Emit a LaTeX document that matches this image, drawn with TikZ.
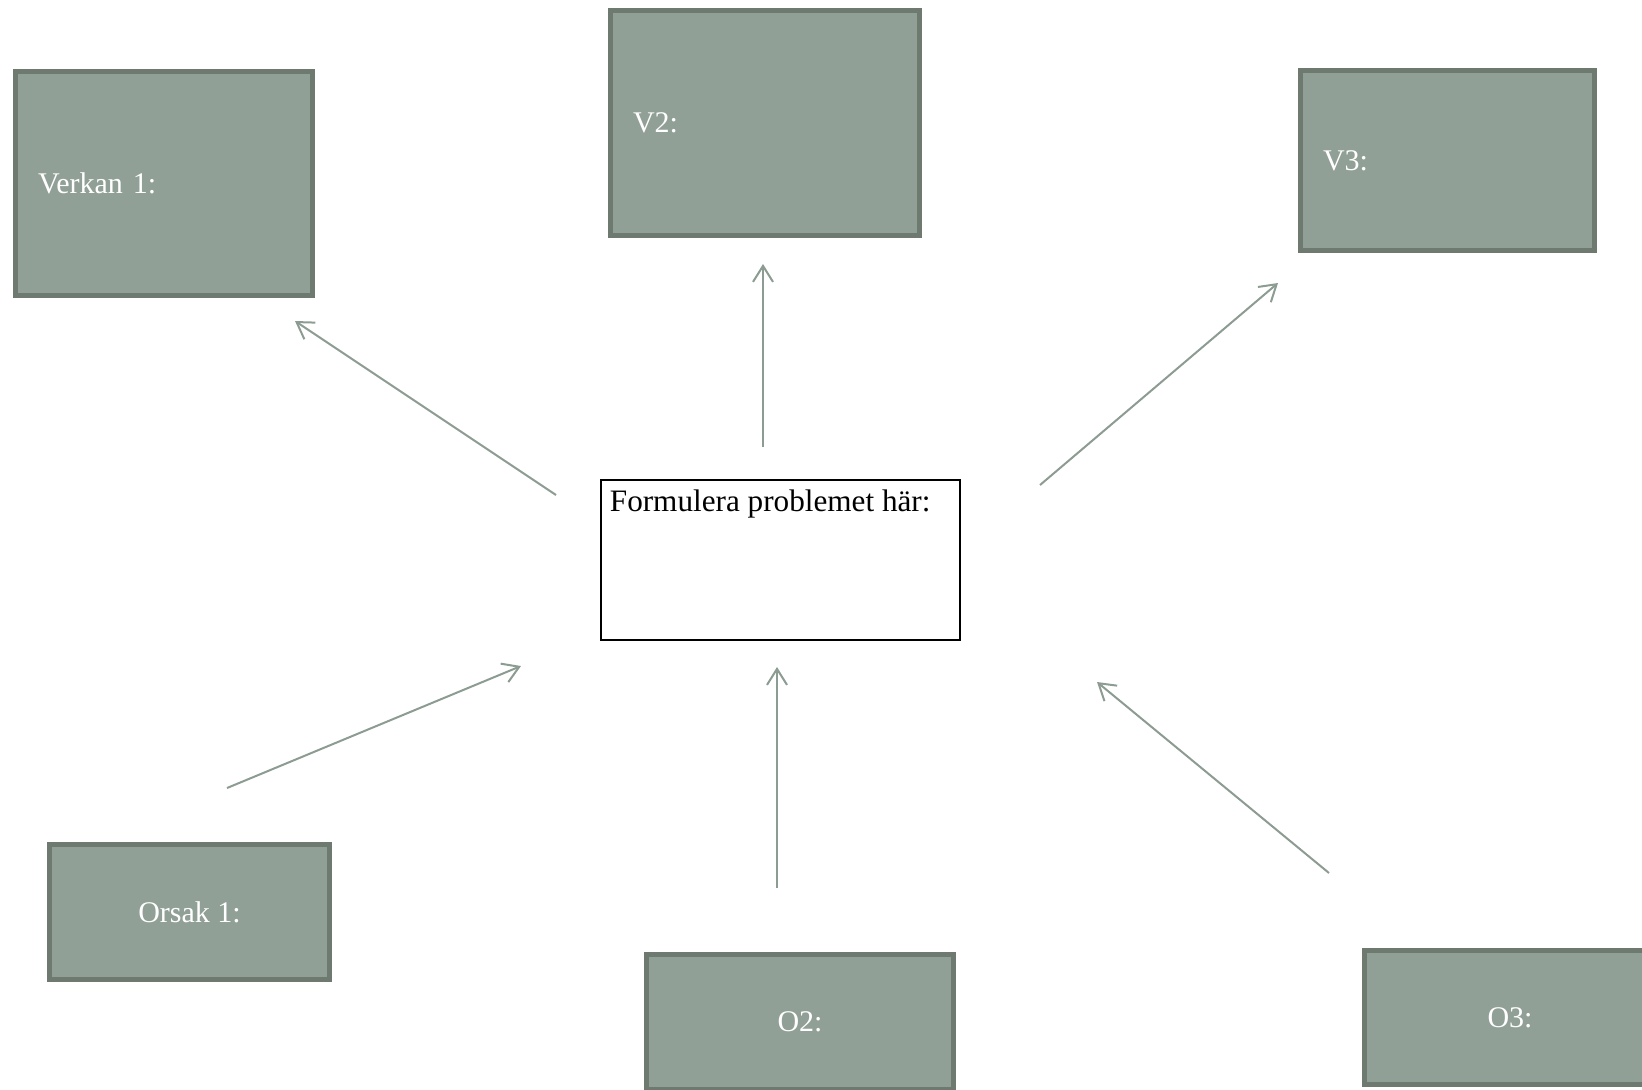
\documentclass[tikz,border=0pt]{standalone}
\usepackage{fontspec}
\setmainfont{Liberation Serif}
\usepackage{tikz}
\usetikzlibrary{arrows.meta}
\usetikzlibrary{positioning}
\definecolor{sagefill}{RGB}{145,160,150}
\definecolor{sageline}{RGB}{110,121,112}
\definecolor{sagearrow}{RGB}{140,156,146}
\tikzset{
  box/.style={draw=sageline, line width=2.5pt, fill=sagefill, text=white, rectangle, font=\fontsize{15pt}{18pt}\selectfont},
  vbox/.style={box, align=left, inner xsep=11.25pt},
  obox/.style={box, align=center},
  pbox/.style={draw=black, line width=1pt, fill=white, rectangle, inner sep=0pt},
  ptext/.style={font=\fontsize{15.6pt}{18pt}\selectfont, inner sep=0pt, anchor=north west},
  pil/.style={draw=sagearrow, line width=1pt, -{Straight Barb[length=8pt,width=10pt]}}
}

\begin{document}
\begin{tikzpicture}[x=0.5pt,y=-0.5pt]

\useasboundingbox (0,0) rectangle (1642,1089);
\clip (0,0) rectangle (1642,1089);

% effects
\node[vbox, minimum width=148.5pt, minimum height=112pt, text width=126pt] (v1) at (164,183.5) {Verkan 1:};
\node[vbox, minimum width=154.5pt, minimum height=112.5pt, text width=132pt] (v2) at (765,123) {V2:};
\node[vbox, minimum width=147pt, minimum height=90pt, text width=124.5pt] (v3) at (1447.5,160.5) {V3:};

% problem
\node[pbox, minimum width=179.5pt, minimum height=80pt] (c) at (780.5,560) {};
\node[ptext] (ct) at ([xshift=4.75pt,yshift=-5pt]c.north west) {Formulera problemet här:};

% causes
\node[obox, minimum width=140pt, minimum height=67.5pt] (o1) at (189.5,912) {Orsak 1:};
\node[obox, minimum width=153.5pt, minimum height=67.5pt] (o2) at (800,1022) {O2:};
\node[obox, minimum width=145.5pt, minimum height=67pt] (o3) at (1510,1017.5) {O3:};

\coordinate (a1s) at (556,495);
\coordinate (a1e) at (295,321);
\coordinate (a2s) at (763,447);
\coordinate (a2e) at (763,264);
\coordinate (a3s) at (1040,485);
\coordinate (a3e) at (1278,283);
\coordinate (a4s) at (227,788);
\coordinate (a4e) at (521,666);
\coordinate (a5s) at (777,888);
\coordinate (a5e) at (777,667);
\coordinate (a6s) at (1329,873);
\coordinate (a6e) at (1097,682);

\foreach \i in {1,...,6}
  \draw[pil] (a\i s) -- (a\i e);

\end{tikzpicture}
\end{document}
